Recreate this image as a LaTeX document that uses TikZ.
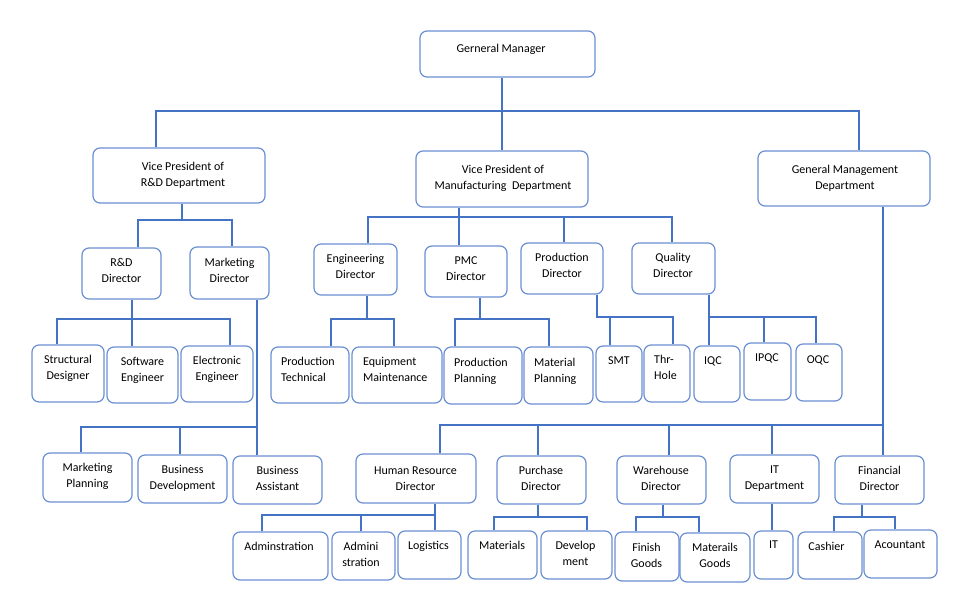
\documentclass[tikz,border=0pt]{standalone}
\usepackage{fontspec}
\setmainfont{Carlito}
\definecolor{lineblue}{HTML}{4472C4}
\definecolor{boxblue}{HTML}{6A8FD2}
\tikzset{
 obox/.style={draw=boxblue, line width=1.2pt, rounded corners=7pt, fill=white, inner sep=0pt},
 txt/.style={inner sep=0pt, font=\fontsize{12}{16.5}\selectfont, text=black},
 conn/.style={draw=lineblue, line width=2pt},
}
\newcommand\ob[8]{%
 \node[obox, minimum width={#4-#2}, minimum height={#5-#3}] (#1) at ({(#2+#4)/2},{(#3+#5)/2}) {};
 \node[txt, align=center, anchor=north] (#1-t) at (#6,{#7-6}) {\rule{0pt}{10pt}#8};}
\newcommand\obl[8]{%
 \node[obox, minimum width={#4-#2}, minimum height={#5-#3}] (#1) at ({(#2+#4)/2},{(#3+#5)/2}) {};
 \node[txt, align=left, anchor=north west] (#1-t) at (#6,{#7-6}) {\rule{0pt}{10pt}#8};}
\begin{document}
\begin{tikzpicture}[x=1pt,y=-1pt]
\path[fill=white] (0,0) rectangle (972,603);
\useasboundingbox (0,0) rectangle (972,603);
\ob{gm}{420}{31}{595}{77}{501}{48}{Gerneral Manager}
\ob{vpr}{93}{148}{265}{203}{183}{166}{Vice President of\\R\&D Department}
\ob{vpm}{416}{151}{588}{207}{503}{169}{Vice President of\\Manufacturing~~Department}
\ob{gmd}{758}{151}{930}{206}{845}{169}{General Management\\Department}
\ob{rnd}{82}{248}{161}{299}{121.5}{262}{R\&D\\Director}
\ob{mkt}{190}{247}{269}{299}{229.5}{262}{Marketing\\Director}
\ob{sd}{32}{345}{104}{402}{68}{359}{Structural\\Designer}
\ob{se}{107}{347}{178}{403}{142.5}{361}{Software\\Engineer}
\ob{ee}{181}{346}{253}{402}{217}{360}{Electronic\\Engineer}
\ob{mp}{43}{453}{132}{502}{87.5}{467}{Marketing\\Planning}
\ob{bd}{138}{455}{227}{503}{182.5}{469}{Business\\Development}
\ob{ba}{233}{456}{322}{504}{277.5}{470}{Business\\Assistant}
\ob{eng}{314}{244}{397}{295}{355.5}{258}{Engineering\\Director}
\ob{pmc}{425}{246}{507}{297}{466}{260}{PMC\\Director}
\ob{pd}{521}{243}{603}{294}{562}{257}{Production\\Director}
\ob{qd}{632}{243}{715}{294}{673}{257}{Quality\\Director}
\obl{pt}{271}{347}{349}{403}{281}{361}{Production\\Technical}
\obl{em}{352}{347}{442}{403}{363}{361}{Equipment\\Maintenance}
\obl{pp}{444}{347}{522}{404}{454}{362}{Production\\Planning}
\obl{matp}{524}{347}{593}{404}{534}{362}{Material\\Planning}
\ob{smt}{596}{346}{642}{402}{619}{360}{SMT}
\obl{th}{644}{345}{690}{402}{654}{359}{Thr-\\Hole}
\obl{iqc}{694}{346}{740}{402}{704}{360}{IQC}
\ob{ipqc}{744}{343}{791}{400}{767}{357}{IPQC}
\ob{oqc}{796}{344}{842}{401}{818}{359}{OQC}
\ob{hr}{356}{454}{476}{503}{415.5}{470}{Human Resource\\Director}
\ob{pur}{497}{456}{586}{504}{541}{470}{Purchase\\Director}
\ob{wh}{617}{456}{706}{504}{661}{470}{Warehouse\\Director}
\ob{itd}{730}{455}{819}{503}{774.5}{469}{IT\\Department}
\ob{fin}{835}{456}{924}{504}{879.5}{470}{Financial\\Director}
\ob{adm}{233}{532}{328}{580}{279}{546}{Adminstration}
\ob{adm2}{332}{532}{395}{580}{361}{546}{Admini\\stration}
\ob{log}{398}{531}{461}{579}{428.5}{545}{Logistics}
\ob{mat}{468}{531}{537}{579}{502}{545}{Materials}
\ob{dev}{541}{531}{612}{579}{575.5}{545}{Develop\\ment}
\ob{fg}{615}{532}{679}{581}{646.5}{547}{Finish\\Goods}
\ob{mg}{680}{533}{750}{582}{715}{547}{Materails\\Goods}
\ob{it}{754}{531}{793}{579}{773.5}{544}{IT}
\ob{cash}{798}{532}{862}{579}{826.5}{546}{Cashier}
\ob{acc}{864}{530}{937}{578}{900}{544}{Acountant}
% connectors
\draw[conn] (gm.south -| 502,0) -- (vpm.north -| 502,0);
\draw[conn] (vpr.north -| 156,0) -- (156,111) -- (859,111) -- (gmd.north -| 859,0);
\draw[conn] (vpr.south -| 182,0) -- (182,220);
\draw[conn] (rnd.north -| 138,0) -- (138,220) -- (232,220) -- (mkt.north -| 232,0);
\draw[conn] (rnd.south -| 132,0) -- (se.north -| 132,0);
\draw[conn] (sd.north -| 57,0) -- (57,319) -- (230,319) -- (ee.north -| 230,0);
\draw[conn] (mkt.south -| 257,0) -- (ba.north -| 257,0);
\draw[conn] (mp.north -| 81,0) -- (81,427) -- (257,427);
\draw[conn] (bd.north -| 180,0) -- (180,427);
\draw[conn] (vpm.south -| 459,0) -- (pmc.north -| 459,0);
\draw[conn] (eng.north -| 368,0) -- (368,217) -- (672,217) -- (qd.north -| 672,0);
\draw[conn] (pd.north -| 564,0) -- (564,217);
\draw[conn] (eng.south -| 367,0) -- (367,319);
\draw[conn] (pt.north -| 331,0) -- (331,319) -- (394,319) -- (em.north -| 394,0);
\draw[conn] (pmc.south -| 480,0) -- (480,319);
\draw[conn] (pp.north -| 455,0) -- (455,319) -- (549,319) -- (matp.north -| 549,0);
\draw[conn] (pd.south -| 597,0) -- (597,317) -- (673,317) -- (th.north -| 673,0);
\draw[conn] (smt.north -| 610,0) -- (610,317);
\draw[conn] (qd.south -| 709,0) -- (iqc.north -| 709,0);
\draw[conn] (709,317) -- (816,317) -- (oqc.north -| 816,0);
\draw[conn] (ipqc.north -| 764,0) -- (764,317);
\draw[conn] (gmd.south -| 883,0) -- (fin.north -| 883,0);
\draw[conn] (hr.north -| 440,0) -- (440,425) -- (883,425);
\draw[conn] (pur.north -| 538,0) -- (538,425);
\draw[conn] (wh.north -| 669,0) -- (669,425);
\draw[conn] (itd.north -| 772,0) -- (772,425);
\draw[conn] (hr.south -| 435,0) -- (log.north -| 435,0);
\draw[conn] (adm.north -| 262,0) -- (262,515) -- (436,515);
\draw[conn] (adm2.north -| 361,0) -- (361,515);
\draw[conn] (pur.south -| 538,0) -- (538,517);
\draw[conn] (mat.north -| 494,0) -- (494,517) -- (587,517) -- (dev.north -| 587,0);
\draw[conn] (wh.south -| 663,0) -- (663,517);
\draw[conn] (fg.north -| 636,0) -- (636,517) -- (699,517) -- (mg.north -| 699,0);
\draw[conn] (itd.south -| 772,0) -- (it.north -| 772,0);
\draw[conn] (fin.south -| 862,0) -- (862,517);
\draw[conn] (cash.north -| 834,0) -- (834,517) -- (895,517) -- (acc.north -| 895,0);
\end{tikzpicture}
\end{document}
